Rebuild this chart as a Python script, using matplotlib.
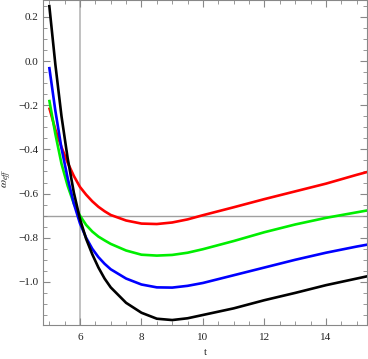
import matplotlib
matplotlib.use("Agg")
import matplotlib.pyplot as plt
from matplotlib.ticker import MultipleLocator, FuncFormatter

# t values shared by all curves
t = [5.0, 5.2, 5.4, 5.6, 5.8, 6.0, 6.2, 6.4, 6.6, 6.8, 7.0, 7.5, 8.0, 8.5,
     9.0, 9.5, 10.0, 11.0, 12.0, 13.0, 14.0, 15.0, 15.4]

w_red = [-0.21, -0.31, -0.39, -0.46, -0.52, -0.57, -0.605, -0.635, -0.66, -0.68,
         -0.697, -0.722, -0.736, -0.738, -0.731, -0.717, -0.698, -0.662, -0.625,
         -0.59, -0.555, -0.515, -0.50]
w_green = [-0.175, -0.33, -0.465, -0.565, -0.645, -0.70, -0.742, -0.772, -0.795,
           -0.812, -0.828, -0.858, -0.877, -0.881, -0.878, -0.868, -0.852, -0.815,
           -0.775, -0.74, -0.71, -0.685, -0.675]
w_blue = [-0.026, -0.225, -0.395, -0.53, -0.645, -0.735, -0.80, -0.85, -0.888,
          -0.918, -0.943, -0.985, -1.012, -1.025, -1.026, -1.018, -1.005, -0.97,
          -0.935, -0.90, -0.868, -0.84, -0.83]
w_black = [0.255, -0.015, -0.25, -0.44, -0.595, -0.715, -0.805, -0.875, -0.935,
           -0.985, -1.025, -1.095, -1.14, -1.167, -1.173, -1.165, -1.15, -1.12,
           -1.083, -1.05, -1.015, -0.985, -0.973]

t_mark = 6
w_mark = -0.7

plt.rcParams['font.family'] = ['Liberation Serif', 'DejaVu Serif']
plt.rcParams['mathtext.fontset'] = 'stix'

fig = plt.figure(figsize=(3.68, 3.59), dpi=100)
ax = fig.add_axes([0.117, 0.095, 0.880, 0.905])

ax.axvline(t_mark, color='#b0b0b0', lw=1.1, zorder=1)
ax.axhline(w_mark, color='#a0a0a0', lw=1.0, zorder=1)

for w, c in [(w_red, '#ff0000'), (w_green, '#00ee00'), (w_blue, '#0000ff'), (w_black, '#000000')]:
    ax.plot(t, w, color=c, lw=1.9, solid_capstyle='butt', zorder=2)

ax.set_xlim(4.8, 15.33)
ax.set_ylim(-1.195, 0.277)

ax.xaxis.set_major_locator(MultipleLocator(2))
ax.xaxis.set_minor_locator(MultipleLocator(0.5))
ax.yaxis.set_major_locator(MultipleLocator(0.2))
ax.yaxis.set_minor_locator(MultipleLocator(0.05))
ax.yaxis.set_major_formatter(FuncFormatter(lambda v, p: f"{v:.1f}".replace('-', '\u2212')))

ax.tick_params(which='both', direction='in', top=True, right=True, colors='#888888',
               labelcolor='#222222', labelsize=8)
ax.tick_params(which='major', length=5, width=0.8)
ax.tick_params(which='minor', length=3, width=0.6)
ax.tick_params(axis='x', pad=6)
for s in ax.spines.values():
    s.set_color('#888888')
    s.set_linewidth(0.8)

ax.set_xlabel('t', fontsize=8, color='#222222', labelpad=4)
ax.set_ylabel(r'$\omega_{eff}$', fontsize=8.5, color='#222222')
ax.yaxis.set_label_coords(-0.09, 0.45)

fig.savefig('out.png', dpi=100)
